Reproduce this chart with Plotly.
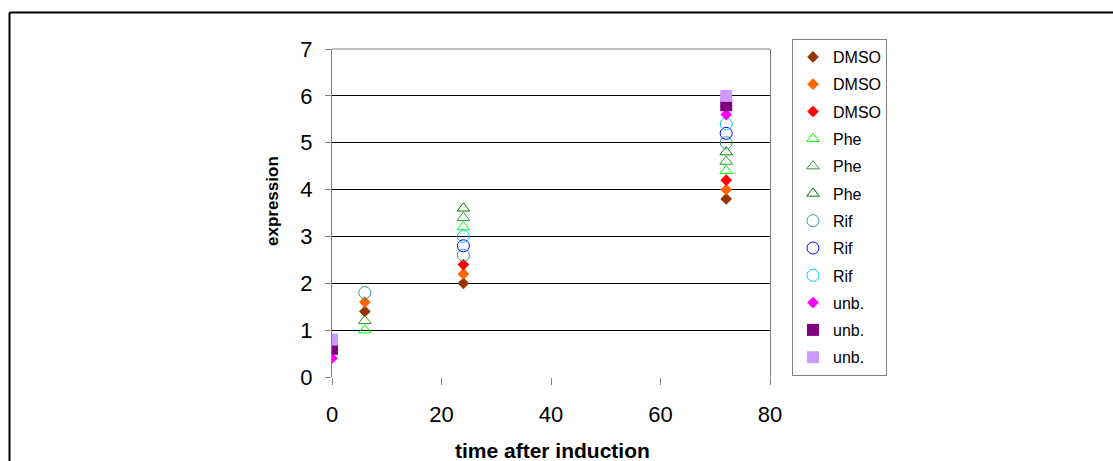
import plotly.graph_objects as go

# Sampling times (hours after induction)
times = [0, 6, 24, 72]

# Expression values per replicate series (None = not measured)
dmso_1 = [None, 1.4, 2.0, 3.8]
dmso_2 = [None, 1.6, 2.2, 4.0]
dmso_3 = [None, None, 2.4, 4.2]
phe_1 = [None, 1.0, 3.2, 4.4]
phe_2 = [None, 1.2, 3.4, 4.6]
phe_3 = [None, None, 3.6, 4.8]
rif_1 = [None, 1.8, 2.6, 5.0]
rif_2 = [None, None, 2.8, 5.2]
rif_3 = [None, None, 3.0, 5.4]
unb_1 = [0.4, None, None, 5.6]
unb_2 = [0.6, None, None, 5.8]
unb_3 = [0.8, None, None, 6.0]

x_ticks = [0, 20, 40, 60, 80]
y_ticks = [0, 1, 2, 3, 4, 5, 6, 7]

FONT = "Liberation Sans, Arial, sans-serif"

series = [
    ("DMSO", dmso_1, "diamond", "#993300", 9, False),
    ("DMSO", dmso_2, "diamond", "#FF6600", 9, False),
    ("DMSO", dmso_3, "diamond", "#FF0000", 9, False),
    ("Phe", phe_1, "triangle-up-open", "#00FF00", 11, True),
    ("Phe", phe_2, "triangle-up-open", "#339933", 11, True),
    ("Phe", phe_3, "triangle-up-open", "#008000", 11, True),
    ("Rif", rif_1, "circle-open", "#339999", 12, True),
    ("Rif", rif_2, "circle-open", "#0000FF", 12, True),
    ("Rif", rif_3, "circle-open", "#00CCFF", 12, True),
    ("unb.", unb_1, "diamond", "#FF00FF", 9, False),
    ("unb.", unb_2, "square", "#800080", 12, False),
    ("unb.", unb_3, "square", "#CC99FF", 12, False),
]

fig = go.Figure()
for i, (name, vals, sym, col, size, is_open) in enumerate(series):
    fig.add_trace(go.Scatter(
        x=times, y=vals, mode="markers", name=name,
        legendgroup=f"g{i}",
        marker=dict(symbol=sym, color=col, size=size,
                    line=dict(color=col, width=1 if is_open else 0)),
    ))

L, R, T, B = 332, 343, 49, 84
W, H = 1113, 461
pw, ph = W - L - R, H - T - B


def px_x(p):
    return (p - L) / pw


def px_y(p):
    return (H - B - p) / ph


fig.update_layout(
    width=W, height=H,
    margin=dict(l=L, r=R, t=T, b=B, pad=0),
    paper_bgcolor="white", plot_bgcolor="white",
    font=dict(family=FONT, color="black"),
    showlegend=True,
    legend=dict(
        x=px_x(792), y=px_y(39), xanchor="left", yanchor="top",
        bordercolor="#808080", borderwidth=1, bgcolor="white",
        font=dict(size=16, family=FONT),
        tracegroupgap=3.5, itemsizing="trace", maxheight=420,
    ),
    xaxis=dict(
        range=[0, 80], tickvals=x_ticks, showgrid=False, zeroline=False,
        showline=False, ticks="outside", ticklen=7, tickcolor="#808080",
        tickfont=dict(size=22, family=FONT), ticklabelstandoff=11,
    ),
    yaxis=dict(
        range=[0, 7], tickvals=y_ticks, showgrid=True, gridcolor="black",
        gridwidth=1, zeroline=False, showline=True, linecolor="#808080",
        linewidth=1, mirror=True, ticks="outside", ticklen=6,
        tickcolor="#808080", tickfont=dict(size=22, family=FONT),
        ticklabelstandoff=8,
    ),
    annotations=[
        dict(text="<b>time after induction</b>", xref="paper", yref="paper",
             x=px_x(552), y=px_y(450), xanchor="center", yanchor="middle",
             showarrow=False, font=dict(size=21, family=FONT)),
        dict(text="<b>expression</b>", xref="paper", yref="paper",
             x=px_x(272), y=px_y(201), xanchor="center", yanchor="middle",
             textangle=-90, showarrow=False, font=dict(size=17, family=FONT)),
    ],
    shapes=[
        # plot-area top border
        dict(type="line", xref="paper", yref="paper", x0=0, x1=1, y0=1, y1=1,
             line=dict(color="#808080", width=1), layer="above"),
        # outer frame (top and left edges)
        dict(type="line", xref="paper", yref="paper",
             x0=px_x(9.5), x1=px_x(1120), y0=px_y(12.5), y1=px_y(12.5),
             line=dict(color="black", width=2)),
        dict(type="line", xref="paper", yref="paper",
             x0=px_x(9.5), x1=px_x(9.5), y0=px_y(12.5), y1=px_y(470),
             line=dict(color="black", width=2)),
    ],
)

fig.write_html("out.html")
